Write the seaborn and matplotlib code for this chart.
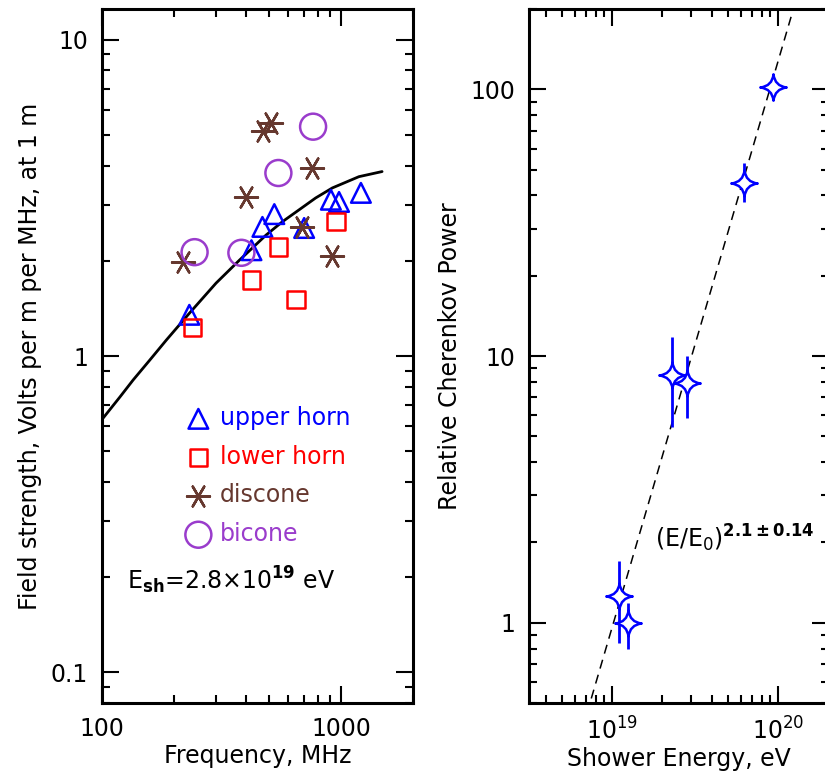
import numpy as np
import pandas as pd
import seaborn as sns
import matplotlib
matplotlib.use('Agg')
import matplotlib.pyplot as plt
from matplotlib.path import Path
from matplotlib.ticker import FuncFormatter, NullFormatter, LogLocator

sns.set_style('ticks')
plt.rcParams['font.family'] = ['DejaVu Sans']
plt.rcParams['mathtext.default'] = 'regular'
for k in ['text.color', 'axes.labelcolor', 'xtick.color', 'ytick.color', 'axes.edgecolor']:
    plt.rcParams[k] = 'black'

# left panel: field strength vs frequency
up_f = [232, 422, 469, 526, 701, 907, 981, 1211]
up_v = [1.35, 2.16, 2.56, 2.81, 2.54, 3.12, 3.07, 3.28]
low_f = [239, 422, 547, 649, 953]
low_v = [1.23, 1.74, 2.21, 1.51, 2.66]
disc_f = [218, 402, 473, 511, 757, 688, 917]
disc_v = [1.98, 3.19, 5.15, 5.46, 3.93, 2.56, 2.07]
bic_f = [244, 383, 547, 764]
bic_v = [2.13, 2.12, 3.79, 5.31]

# model curve
curve_f = [100, 119, 135, 158.5, 186, 232, 300, 376, 485, 569, 668, 783, 920, 1188, 1485]
curve_v = [0.63, 0.743, 0.84, 0.971, 1.124, 1.365, 1.70, 2.01, 2.41, 2.66, 2.90, 3.16, 3.40, 3.69, 3.83]

# right panel: cherenkov power vs shower energy
energy = [1.10e19, 1.25e19, 2.31e19, 2.82e19, 6.24e19, 9.3e19]
power = [1.26, 1.00, 8.5, 7.9, 44.7, 102]
power_hi = [1.70, 1.19, 11.75, 10.0, 53, 114]
power_lo = [0.84, 0.80, 5.43, 5.85, 37.7, 92]
fit_E = [7.5e18, 1.2e20]
fit_P = [0.52, 187]

antennas = ['upper horn', 'lower horn', 'discone', 'bicone']
colors = ['#0000ff', '#ff0000', '#66382f', '#9a3ccc']
markers = ['^', 's', (6, 2, 90), 'o']
sizes = [200, 160, 270, 350]
groups = [(up_f, up_v), (low_f, low_v), (disc_f, disc_v), (bic_f, bic_v)]

fig = plt.figure(figsize=(8.25, 7.74), dpi=100)
ax1 = fig.add_axes([0.1236, 0.0917, 0.377, 0.8966])
ax2 = fig.add_axes([0.6412, 0.0917, 0.3636, 0.8966])

for ax in (ax1, ax2):
    ax.set_xscale('log')
    ax.set_yscale('log')

sns.lineplot(x=curve_f, y=curve_v, color='black', lw=2, ax=ax1)
for (f, v), name, c, m, s in zip(groups, antennas, colors, markers, sizes):
    if m == (6, 2, 90):
        sns.scatterplot(x=f, y=v, marker=m, s=s, color=c, edgecolor=c, linewidth=1.8,
                        ax=ax1, label=name, zorder=3)
    else:
        sns.scatterplot(x=f, y=v, marker=m, s=s, color=c, facecolor='none', edgecolor=c,
                        linewidth=1.8, ax=ax1, label=name, zorder=3)

ax1.set_xlim(100, 2000)
ax1.set_ylim(0.08, 12.5)
ax1.set_xlabel('Frequency, MHz', fontsize=17, labelpad=2)
ax1.set_ylabel('Field strength, Volts per m per MHz, at 1 m', fontsize=17, labelpad=6)
leg = ax1.legend(loc='upper left', bbox_to_anchor=(0.234, 0.445), frameon=False,
                 fontsize=17, handlelength=1.0, handletextpad=0.4, labelspacing=0.62,
                 borderpad=0, scatterpoints=1)
for t, c in zip(leg.get_texts(), colors):
    t.set_color(c)
ax1.text(0.08, 0.177, r'$E_{\mathbf{sh}}$=2.8×10$^{\mathbf{19}}$ eV', transform=ax1.transAxes,
         fontsize=17, va='center', ha='left')

# right panel
star = Path([(0, 1), (0.1, 0.1), (1, 0), (0.1, -0.1), (0, -1), (-0.1, -0.1),
             (-1, 0), (-0.1, 0.1), (0, 1), (0, 1)],
            [Path.MOVETO, Path.CURVE3, Path.CURVE3, Path.CURVE3, Path.CURVE3,
             Path.CURVE3, Path.CURVE3, Path.CURVE3, Path.CURVE3, Path.CLOSEPOLY])

sns.lineplot(x=fit_E, y=fit_P, color='black', lw=1.1, linestyle=(0, (6, 4.2)), ax=ax2)
err = np.array([np.array(power) - np.array(power_lo), np.array(power_hi) - np.array(power)])
ax2.errorbar(energy, power, yerr=err, fmt='none', ecolor='#0000ff', elinewidth=2, capsize=0, zorder=3)
sns.scatterplot(x=energy, y=power, marker=star, s=360, color='#0000ff', facecolor='white',
                edgecolor='#0000ff', linewidth=1.8, ax=ax2, zorder=4)
ax2.set_xlim(3.16e18, 2.03e20)
ax2.set_ylim(0.5, 200)
ax2.set_xlabel('Shower Energy, eV', fontsize=17, labelpad=2)
ax2.set_ylabel('Relative Cherenkov Power', fontsize=17, labelpad=6)
ax2.text(1.82e19, 2.08, r'$(E/E_0)^{\mathbf{2.1\pm0.14}}$', fontsize=17, va='center', ha='left')

plain = FuncFormatter(lambda v, p: '%g' % v)
ax1.xaxis.set_major_formatter(plain)
ax1.yaxis.set_major_formatter(plain)
ax2.yaxis.set_major_formatter(plain)
for ax in (ax1, ax2):
    ax.xaxis.set_minor_formatter(NullFormatter())
    ax.yaxis.set_minor_formatter(NullFormatter())
    ax.xaxis.set_minor_locator(LogLocator(base=10, subs=np.arange(2, 10), numticks=20))
    ax.yaxis.set_minor_locator(LogLocator(base=10, subs=np.arange(2, 10), numticks=20))
    ax.tick_params(which='both', direction='in', top=True, right=True, width=1.5, labelsize=17, pad=10)
    ax.tick_params(which='major', length=12)
    ax.tick_params(which='minor', length=6)
    for sp in ax.spines.values():
        sp.set_linewidth(2.2)
        sp.set_visible(True)

fig.savefig('out.png', dpi=100)
